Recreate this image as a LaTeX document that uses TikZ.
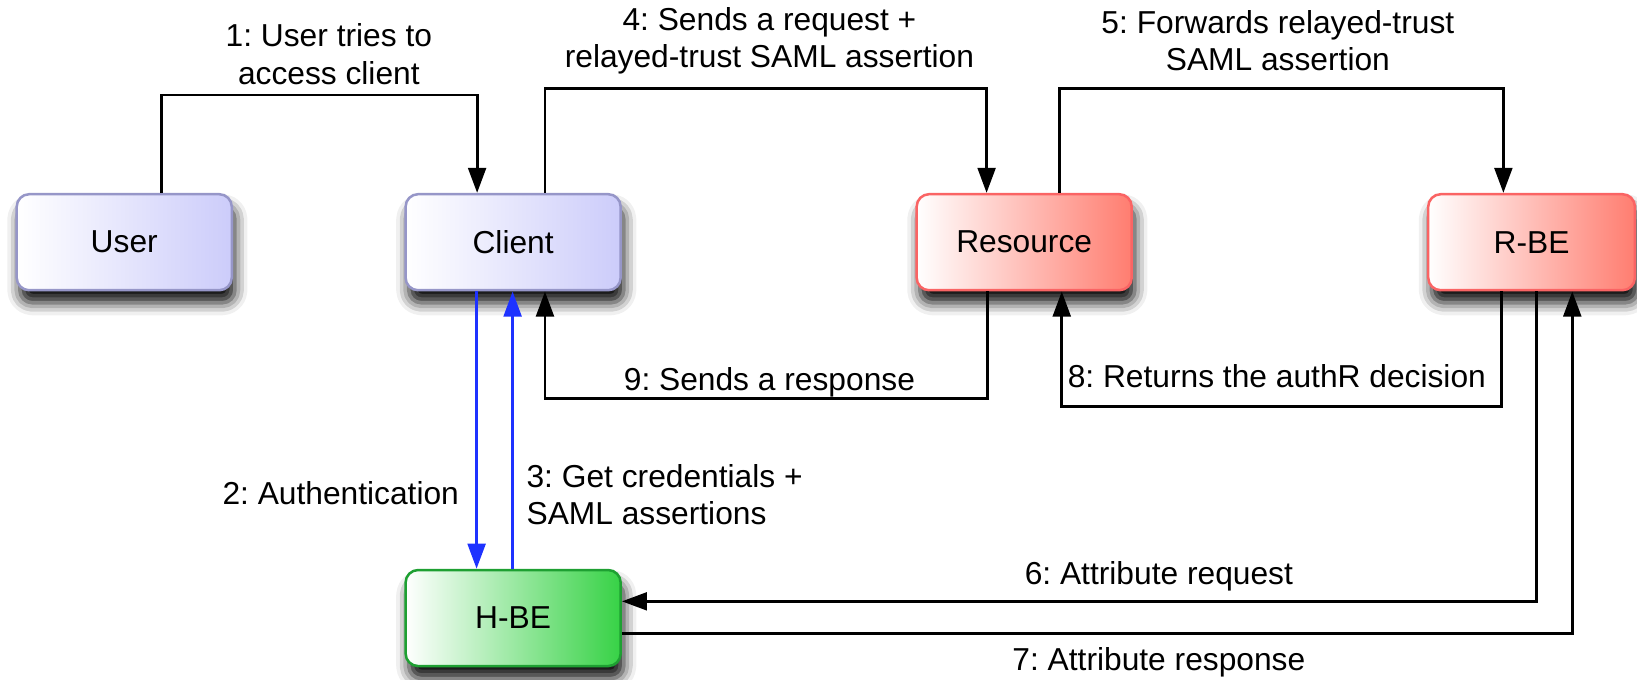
\documentclass[tikz,border=0pt]{standalone}
\usepackage{fontspec}
\setmainfont{Liberation Sans}
\usetikzlibrary{arrows.meta,shadows.blur}

\definecolor{blueEdge}{RGB}{150,150,200}
\definecolor{blueFill}{RGB}{204,204,250}
\definecolor{redEdge}{RGB}{250,100,100}
\definecolor{redFill}{RGB}{255,125,112}
\definecolor{greenEdge}{RGB}{30,160,50}
\definecolor{greenFill}{RGB}{55,210,70}
\definecolor{authBlue}{RGB}{30,50,255}

\begin{document}
\frenchspacing
\begin{tikzpicture}[x=0.5pt,y=-0.5pt,
  every node/.style={font=\fontsize{15.2}{18}\selectfont},
  box/.style={rectangle, rounded corners=6pt, minimum width=103pt,
    minimum height=46pt, line width=1.2pt, inner sep=0pt,
    blur shadow={shadow xshift=1.5pt, shadow yshift=-6pt,
      shadow blur radius=6pt, shadow opacity=95}},
  bluebox/.style={box, draw=blueEdge, left color=white, right color=blueFill},
  redbox/.style={box, draw=redEdge, left color=white, right color=redFill},
  greenbox/.style={box, draw=greenEdge, left color=white, right color=greenFill},
  conn/.style={line width=1.4pt, -{Triangle[length=12pt,width=8.5pt]}},
  authconn/.style={conn, draw=authBlue, -{Triangle[length=12pt,width=8.5pt,color=authBlue]}},
  lbl/.style={align=center, inner sep=0pt}
]
\useasboundingbox (0,0) rectangle (1568,651);

% entities
\node[bluebox] (user) at (119,232) {User};
\node[bluebox] (client) at (491.5,232) {Client};
\node[redbox] (resource) at (981,232) {Resource};
\node[redbox, minimum width=99pt] (rbe) at (1467,232) {R-BE};
\node[greenbox] (hbe) at (491.5,592) {H-BE};

% bend points of the routed connectors
\coordinate (a1) at (155,91);   \coordinate (a2) at (457,91);
\coordinate (b1) at (522,85);   \coordinate (b2) at (945,85);
\coordinate (c1) at (1015,85);  \coordinate (c2) at (1440,85);
\coordinate (d1) at (946,382);  \coordinate (d2) at (522,382);
\coordinate (e1) at (1438,389); \coordinate (e2) at (1017,389);
\coordinate (f1) at (1472,576);
\coordinate (g1) at (1506,607);
\coordinate (h1) at (456.5,0);  \coordinate (h2) at (491,0);

% 1: user to client
\draw[conn] (user.north -| a1) -- (a1) -- (a2) -- (client.north -| a2);
% 4: client to resource
\draw[conn] (client.north -| b1) -- (b1) -- (b2) -- (resource.north -| b2);
% 5: resource to R-BE
\draw[conn] (resource.north -| c1) -- (c1) -- (c2) -- (rbe.north -| c2);
% 9: response back to the client
\draw[conn] (resource.south -| d1) -- (d1) -- (d2) -- (client.south -| d2);
% 8: authorisation decision back to the resource
\draw[conn] (rbe.south -| e1) -- (e1) -- (e2) -- (resource.south -| e2);
% 6: attribute request
\draw[conn] (rbe.south -| f1) -- (f1) -- (hbe.east |- f1);
% 7: attribute response
\draw[conn] (hbe.east |- g1) -- (g1) -- (rbe.south -| g1);
% 2 and 3: authentication exchange
\draw[authconn] (client.south -| h1) -- (hbe.north -| h1);
\draw[authconn] (hbe.north -| h2) -- (client.south -| h2);

% labels
\node[lbl] (l1) at (315,52) {1: User tries to\\access client};
\node[lbl] (l4) at (737,39) {4: Sends a request +\\relayed-trust SAML assertion};
\node[lbl] (l5) at (1224,39) {5: Forwards relayed-trust\\SAML assertion};
\node[lbl] (l9) at (737,366) {9: Sends a response};
\node[lbl] (l8) at (1223,360) {8: Returns the authR decision};
\node[lbl, anchor=east] (l2) at (440,472) {2: Authentication};
\node[lbl, align=left, anchor=west] (l3) at (504,474) {3: Get credentials +\\SAML assertions};
\node[lbl] (l6) at (1110,552) {6: Attribute request};
\node[lbl] (l7) at (1110,634) {7: Attribute response};
\end{tikzpicture}
\end{document}
